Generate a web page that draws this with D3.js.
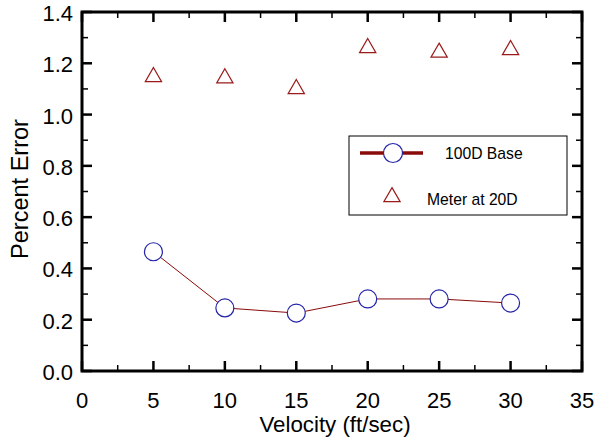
<!DOCTYPE html>
<html><head><meta charset="utf-8">
<script src="https://cdn.jsdelivr.net/npm/d3@7"></script>
<style>body{margin:0;background:#fff}text{font-family:"Liberation Sans",Arial,sans-serif}</style>
</head><body><svg id="c" width="596" height="442"></svg>
<script>
const velocities=[5,10,15,20,25,30];
const base100D=[0.465,0.246,0.226,0.281,0.281,0.265];
const meter20D=[1.147,1.142,1.10,1.26,1.242,1.252];
const xTicks=[0,5,10,15,20,25,30,35];
const yTicks=[0,0.2,0.4,0.6,0.8,1.0,1.2,1.4];

const svg=d3.select("#c");
const L=82,R=582,T=12,B=371;
const x=d3.scaleLinear().domain([0,35]).range([L,R]);
const y=d3.scaleLinear().domain([0,1.4]).range([B,T]);
const lineColor="#8b0a0a", circColor="#2424a8", triColor="#9b1a1a";

const g=svg.append("g");
const xMinor=d3.range(2.5,35,5), yMinor=d3.range(0.1,1.4,0.2);
xMinor.forEach(v=>{
  g.append("line").attr("x1",x(v)).attr("x2",x(v)).attr("y1",B).attr("y2",B-6).attr("stroke","#000").attr("stroke-width",1.5);
  g.append("line").attr("x1",x(v)).attr("x2",x(v)).attr("y1",T).attr("y2",T+6).attr("stroke","#000").attr("stroke-width",1.5);
});
yMinor.forEach(v=>{
  g.append("line").attr("x1",L).attr("x2",L+6).attr("y1",y(v)).attr("y2",y(v)).attr("stroke","#000").attr("stroke-width",1.5);
  g.append("line").attr("x1",R).attr("x2",R-6).attr("y1",y(v)).attr("y2",y(v)).attr("stroke","#000").attr("stroke-width",1.5);
});
xTicks.forEach(v=>{
  g.append("line").attr("x1",x(v)).attr("x2",x(v)).attr("y1",B).attr("y2",B-10).attr("stroke","#000").attr("stroke-width",2.5);
  g.append("line").attr("x1",x(v)).attr("x2",x(v)).attr("y1",T).attr("y2",T+10).attr("stroke","#000").attr("stroke-width",2.5);
  g.append("text").attr("x",x(v)).attr("y",407.5).attr("text-anchor","middle").attr("font-size",22).text(v);
});
yTicks.forEach(v=>{
  g.append("line").attr("x1",L).attr("x2",L+10).attr("y1",y(v)).attr("y2",y(v)).attr("stroke","#000").attr("stroke-width",2.5);
  g.append("line").attr("x1",R).attr("x2",R-10).attr("y1",y(v)).attr("y2",y(v)).attr("stroke","#000").attr("stroke-width",2.5);
  g.append("text").attr("x",73).attr("y",y(v)+9).attr("text-anchor","end").attr("font-size",22).text(v.toFixed(1));
});
g.append("rect").attr("x",L).attr("y",T).attr("width",R-L).attr("height",B-T).attr("fill","none").attr("stroke","#000").attr("stroke-width",3);

svg.append("text").attr("x",335).attr("y",432).attr("text-anchor","middle").attr("font-size",22.3).text("Velocity (ft/sec)");
svg.append("text").attr("transform","translate(27.5,189) rotate(-90)").attr("text-anchor","middle").attr("font-size",23.5).text("Percent Error");

const pts=velocities.map((v,i)=>[x(v),y(base100D[i])]);
svg.append("path").attr("d",d3.line()(pts)).attr("fill","none").attr("stroke",lineColor).attr("stroke-width",1);
svg.selectAll("circle.p").data(pts).enter().append("circle").attr("cx",d=>d[0]).attr("cy",d=>d[1]).attr("r",9).attr("fill","#fff").attr("stroke",circColor).attr("stroke-width",1.2);
const tri=d3.symbol().type(d3.symbolTriangle).size(115);
velocities.forEach((v,i)=>{
  svg.append("path").attr("d",tri()).attr("transform",`translate(${x(v)},${y(meter20D[i])})`).attr("fill","#fff").attr("stroke",triColor).attr("stroke-width",1.2);
});

const lg=svg.append("g");
lg.append("rect").attr("x",349).attr("y",136).attr("width",218).attr("height",79).attr("fill","#fff").attr("stroke","#000").attr("stroke-width",1);
lg.append("line").attr("x1",360).attr("x2",423).attr("y1",153).attr("y2",153).attr("stroke",lineColor).attr("stroke-width",3.5);
lg.append("circle").attr("cx",393).attr("cy",153).attr("r",9.5).attr("fill","#fff").attr("stroke",circColor).attr("stroke-width",1.2);
lg.append("text").attr("x",445).attr("y",159).attr("font-size",15.7).text("100D Base");
lg.append("path").attr("d",tri()).attr("transform","translate(392,197)").attr("fill","#fff").attr("stroke",triColor).attr("stroke-width",1.2);
lg.append("text").attr("x",427).attr("y",205).attr("font-size",15.7).text("Meter at 20D");
</script></body></html>
